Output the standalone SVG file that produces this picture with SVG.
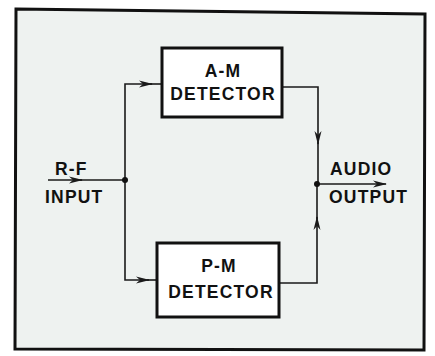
<svg xmlns="http://www.w3.org/2000/svg" width="435" height="356" viewBox="0 0 435 356">
<style>
.box{fill:#ffffff;stroke:#111;stroke-width:3}
.ln{fill:none;stroke:#1a1a1a;stroke-width:1.6}
.t{font-family:"Liberation Sans",Arial,sans-serif;font-weight:bold;font-size:17.5px;letter-spacing:1.2px;fill:#111}
.c{text-anchor:middle}
</style>
<defs>
<marker id="ah" markerWidth="14" markerHeight="9" refX="13" refY="4.5" orient="auto" markerUnits="userSpaceOnUse">
<path d="M0,1 L14,4.5 L0,8 L4,4.5 Z" fill="#1a1a1a"/>
</marker>
</defs>
<rect width="435" height="356" fill="#ffffff"/>
<polygon points="16,9 425,14 424,350 15,349" fill="#eef2f0" stroke="#111" stroke-width="3"/>
<g id="connectors">
<line class="ln" x1="48" y1="180" x2="82" y2="180" marker-end="url(#ah)"/>
<line class="ln" x1="80" y1="180" x2="125" y2="180"/>
<polyline class="ln" points="125,180 125,84 152,84" marker-end="url(#ah)"/>
<line class="ln" x1="150" y1="84" x2="162" y2="84"/>
<polyline class="ln" points="125,180 125,280 149,280" marker-end="url(#ah)"/>
<line class="ln" x1="147" y1="280" x2="157" y2="280"/>
<polyline class="ln" points="282,87 318,87 318,144" marker-end="url(#ah)"/>
<line class="ln" x1="318" y1="142" x2="318" y2="184"/>
<polyline class="ln" points="279,283 317,283 317,217" marker-end="url(#ah)"/>
<line class="ln" x1="317" y1="219" x2="317" y2="184"/>
<line class="ln" x1="317" y1="184" x2="386" y2="184" marker-end="url(#ah)"/>
<circle cx="125" cy="180" r="3" fill="#111"/>
<circle cx="317" cy="184" r="3" fill="#111"/>
</g>
<g id="am">
<rect class="box" x="162" y="48" width="120" height="69"/>
<text class="t c" x="223" y="77">A-M</text>
<text class="t c" x="223" y="100">DETECTOR</text>
</g>
<g id="pm">
<rect class="box" x="157" y="243" width="122" height="74"/>
<text class="t c" x="219" y="272">P-M</text>
<text class="t c" x="221" y="298">DETECTOR</text>
</g>
<g id="input">
<text class="t" x="55" y="175">R-F</text>
<text class="t" x="45" y="203">INPUT</text>
</g>
<g id="output">
<text class="t" x="330" y="175">AUDIO</text>
<text class="t" x="329" y="203">OUTPUT</text>
</g>
</svg>
